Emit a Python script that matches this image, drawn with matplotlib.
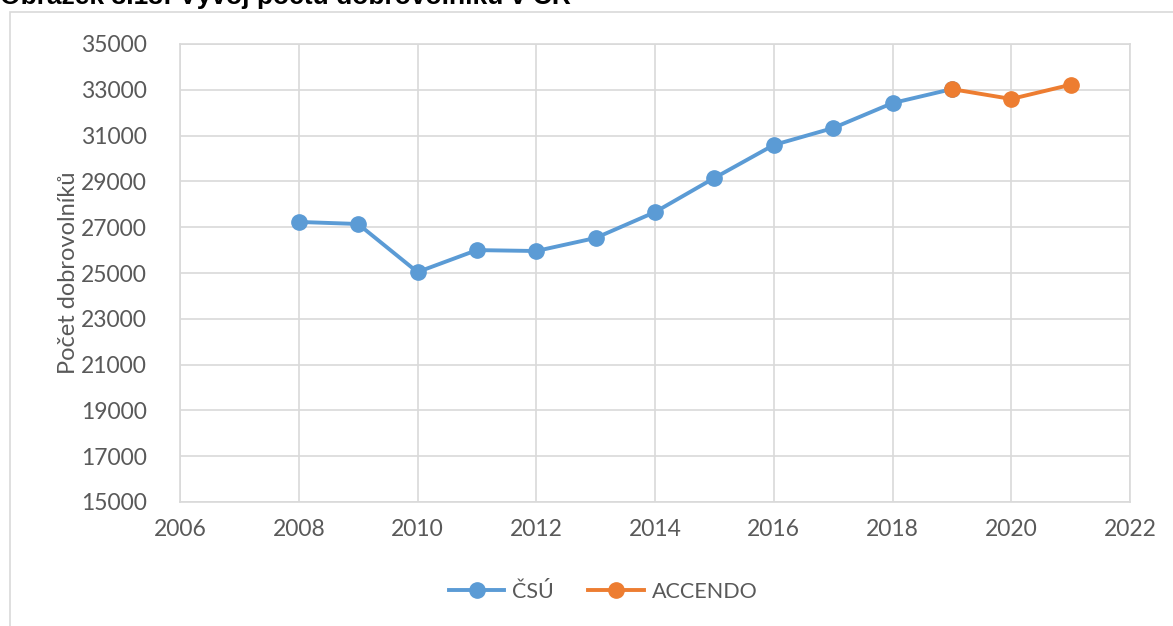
import matplotlib
matplotlib.use('Agg')
import matplotlib.pyplot as plt
from matplotlib.patches import Rectangle

plt.rcParams['font.family'] = ['Lato', 'DejaVu Sans']

roky_csu = [2008, 2009, 2010, 2011, 2012, 2013, 2014, 2015, 2016, 2017, 2018, 2019]
pocet_csu = [27230, 27140, 25040, 26000, 25960, 26530, 27660, 29150, 30590, 31330, 32420, 33030]
roky_acc = [2019, 2020, 2021]
pocet_acc = [33030, 32600, 33220]

W, H = 1173, 626
fig = plt.figure(figsize=(W/100, H/100), dpi=100)
ax = fig.add_axes([180/W, 1 - 502/H, 950/W, 458/H])

ax.plot(roky_csu, pocet_csu, color='#5b9bd5', linewidth=2.8, marker='o',
        markersize=11, label='ČSÚ', zorder=3)
ax.plot(roky_acc, pocet_acc, color='#ed7d31', linewidth=2.8, marker='o',
        markersize=11, label='ACCENDO', zorder=4)

ax.set_xlim(2006, 2022)
ax.set_ylim(15000, 35000)
ax.set_xticks(range(2006, 2023, 2))
ax.set_yticks(range(15000, 35001, 2000))
ax.grid(True, color='#d9d9d9', linewidth=1.2)
ax.set_axisbelow(True)
for s in ax.spines.values():
    s.set_color('#d9d9d9')
    s.set_linewidth(1.2)
ax.tick_params(length=0, labelsize=16.5, labelcolor='#595959')
ax.tick_params(axis='y', pad=24)
ax.tick_params(axis='x', pad=12)
ax.set_ylabel('Počet dobrovolníků', fontsize=17, color='#595959', labelpad=1)

ax.legend(loc='center', bbox_to_anchor=(603/W, 1 - 592/H), bbox_transform=fig.transFigure,
          ncol=2, frameon=False, fontsize=15.5, labelcolor='#595959',
          handlelength=2.6, columnspacing=1.6, handletextpad=0.35)

fig.patches.append(Rectangle((10/W, -0.1), 1.1, (1 - 12/H) + 0.1, transform=fig.transFigure,
                             fill=False, edgecolor='#d9d9d9', linewidth=1.2))

fig.text(0, 1 - 4/H, 'Obrázek 3.13: Vývoj počtu dobrovolníků v ČR', fontsize=19,
         fontweight='bold', family=['Liberation Sans', 'DejaVu Sans'], ha='left', va='baseline')

fig.savefig('out.png', dpi=100)
